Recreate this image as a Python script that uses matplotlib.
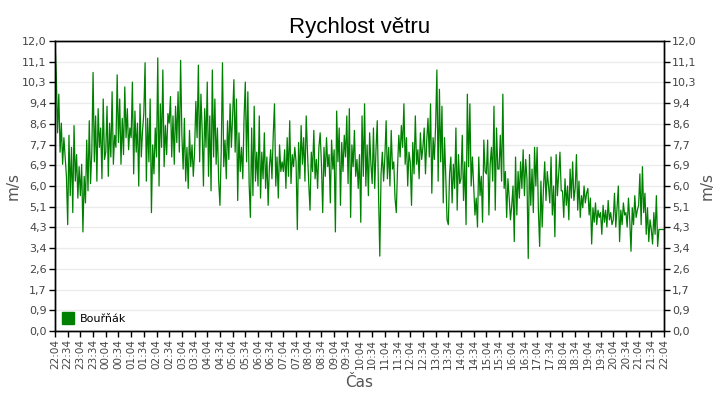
import numpy as np
import matplotlib.pyplot as plt
from matplotlib.lines import Line2D

plt.rcParams["font.family"] = ["DejaVu Sans"]

# wind speed (m/s), one row per 30 minute block starting 22:04, sample every 3 min
speed_blocks = [
    [12.0, 10.6, 8.2, 9.8, 7.4, 8.6, 6.9, 8.0, 7.2, 6.4],
    [4.4, 8.1, 5.6, 7.6, 4.9, 8.5, 6.2, 7.3, 5.5, 6.8],
    [5.6, 6.9, 4.1, 6.4, 5.3, 7.9, 5.8, 8.7, 6.1, 7.4],
    [10.7, 7.0, 8.9, 6.2, 9.2, 7.6, 8.4, 6.3, 9.6, 7.1],
    [7.4, 9.3, 6.4, 8.6, 7.2, 9.9, 6.9, 8.1, 7.6, 10.6],
    [7.8, 9.6, 6.9, 8.8, 7.3, 10.1, 8.0, 9.2, 7.5, 8.4],
    [8.0, 10.3, 6.5, 9.1, 7.4, 8.6, 6.0, 9.4, 7.2, 8.3],
    [9.0, 11.1, 6.2, 8.8, 7.0, 9.6, 4.9, 7.7, 6.5, 8.4],
    [7.2, 11.3, 6.0, 9.4, 7.6, 10.8, 6.8, 8.5, 7.3, 9.0],
    [8.6, 9.7, 7.2, 8.9, 6.9, 9.3, 7.8, 9.9, 7.4, 11.2],
    [8.1, 6.7, 8.8, 6.2, 7.6, 5.9, 8.3, 6.8, 7.7, 6.4],
    [7.4, 9.5, 8.0, 11.0, 7.0, 9.8, 8.3, 6.0, 9.2, 7.6],
    [10.3, 6.4, 8.9, 5.8, 10.8, 7.2, 9.6, 6.9, 8.4, 6.2],
    [5.2, 7.4, 11.1, 6.8, 7.9, 6.3, 8.7, 7.1, 9.4, 7.6],
    [8.9, 10.4, 7.4, 9.6, 5.4, 8.2, 6.6, 7.6, 6.3, 8.8],
    [10.3, 7.0, 9.9, 6.1, 4.7, 8.4, 5.6, 9.3, 6.2, 7.4],
    [6.0, 8.9, 5.5, 7.4, 6.3, 8.2, 5.9, 7.2, 5.2, 6.8],
    [7.5, 6.3, 8.1, 9.4, 6.0, 7.2, 5.5, 7.7, 6.6, 7.0],
    [6.6, 7.5, 5.9, 8.0, 6.4, 8.7, 6.1, 7.3, 6.8, 7.6],
    [7.0, 4.2, 7.8, 6.3, 8.5, 6.9, 8.0, 6.2, 8.9, 7.4],
    [6.1, 5.0, 7.4, 6.6, 8.3, 6.3, 7.1, 5.9, 7.6, 8.2],
    [6.9, 4.9, 7.6, 6.4, 8.0, 6.8, 7.3, 5.3, 7.9, 6.7],
    [7.5, 4.1, 9.1, 7.0, 8.4, 5.2, 7.8, 6.6, 8.1, 7.2],
    [8.9, 6.1, 9.2, 4.7, 7.7, 6.8, 8.3, 6.4, 7.1, 5.9],
    [7.3, 4.5, 8.9, 6.4, 9.4, 6.0, 7.7, 5.6, 8.2, 6.9],
    [6.1, 8.4, 5.9, 7.5, 8.7, 5.7, 3.1, 6.5, 7.4, 6.2],
    [7.2, 8.7, 6.3, 7.6, 6.0, 8.3, 6.7, 7.0, 5.5, 4.9],
    [6.8, 8.1, 7.2, 8.5, 7.6, 9.4, 6.9, 8.0, 6.0, 7.4],
    [7.0, 5.2, 7.8, 6.5, 8.9, 6.9, 7.5, 6.3, 8.2, 7.1],
    [7.6, 8.4, 6.5, 7.9, 8.8, 7.2, 9.4, 5.7, 8.0, 7.1],
    [8.5, 10.8, 6.2, 10.0, 7.0, 9.3, 5.3, 8.0, 6.4, 4.6],
    [4.4, 6.5, 7.2, 5.3, 6.9, 5.9, 8.4, 5.0, 7.3, 6.1],
    [6.3, 8.1, 5.4, 7.0, 4.4, 9.8, 6.8, 9.4, 6.0, 7.2],
    [6.0, 4.8, 5.5, 4.3, 7.2, 5.6, 6.4, 4.5, 7.9, 6.6],
    [6.5, 7.9, 4.8, 6.9, 7.6, 6.2, 9.3, 5.0, 8.4, 6.7],
    [6.7, 8.1, 6.2, 9.8, 5.9, 6.6, 4.7, 6.3, 5.5, 4.6],
    [5.2, 6.0, 3.7, 7.2, 4.8, 6.6, 5.5, 7.0, 5.9, 7.5],
    [5.6, 7.1, 6.3, 3.0, 7.3, 5.2, 6.7, 4.9, 7.6, 6.0],
    [7.6, 5.0, 3.5, 6.2, 4.3, 5.9, 7.0, 5.4, 6.6, 6.0],
    [5.3, 7.2, 4.8, 6.0, 3.9, 7.3, 5.6, 6.5, 7.4, 5.8],
    [5.8, 4.7, 6.3, 5.2, 6.0, 4.6, 6.7, 5.5, 7.0, 5.4],
    [5.9, 7.3, 5.0, 6.2, 4.7, 5.6, 5.1, 6.0, 5.3, 5.7],
    [5.9, 4.8, 5.5, 3.6, 5.1, 4.5, 5.3, 4.4, 5.0, 4.7],
    [4.9, 4.0, 5.2, 4.5, 5.0, 4.3, 5.4, 4.6, 4.9, 4.4],
    [4.6, 5.7, 4.3, 5.1, 6.0, 3.7, 5.0, 4.4, 5.3, 4.8],
    [4.9, 4.3, 5.5, 4.6, 3.3, 5.1, 4.4, 5.6, 4.7, 5.0],
    [5.2, 6.5, 4.4, 6.8, 4.9, 5.7, 4.0, 5.1, 3.7, 4.6],
    [4.2, 3.6, 4.9, 4.0, 5.6, 3.5, 4.2],
]
last_minute = 1440
last_value = 4.2
step_min = 3

time_labels = [
    "22:04", "22:34", "23:04", "23:34", "00:04", "00:34", "01:04", "01:34",
    "02:04", "02:34", "03:04", "03:34", "04:04", "04:34", "05:04", "05:34",
    "06:04", "06:34", "07:04", "07:34", "08:04", "08:34", "09:04", "09:34",
    "10:04", "10:34", "11:04", "11:34", "12:04", "12:34", "13:04", "13:34",
    "14:04", "14:34", "15:04", "15:34", "16:04", "16:34", "17:04", "17:34",
    "18:04", "18:34", "19:04", "19:34", "20:04", "20:34", "21:04", "21:34",
    "22:04",
]
y_labels = ["0,0", "0,9", "1,7", "2,6", "3,4", "4,3", "5,1", "6,0",
            "6,9", "7,7", "8,6", "9,4", "10,3", "11,1", "12,0"]

speed = [v for block in speed_blocks for v in block] + [last_value]
minutes = [i * step_min for i in range(len(speed) - 1)] + [last_minute]

green = "#008000"
label_col = "#444444"

fig = plt.figure(figsize=(7.2, 4.0), dpi=100)
ax = fig.add_axes([0.0764, 0.1725, 0.8458, 0.725])

ax.plot(minutes, speed, color=green, linewidth=0.9)

y_ticks = np.linspace(0, 12, len(y_labels))
ax.set_ylim(0, 12)
ax.set_xlim(0, 1440)
ax.set_yticks(y_ticks)
ax.set_yticklabels(y_labels)
ax.set_xticks(np.arange(0, 1441, 30))
ax.set_xticklabels(time_labels, rotation=90)
ax.grid(axis="y", color="#ebebeb", linewidth=1)
ax.set_axisbelow(True)
ax.tick_params(axis="both", direction="out", length=4, width=1,
               labelsize=7.5, labelcolor=label_col)
ax.tick_params(axis="y", labelsize=8, pad=2)
ax.tick_params(axis="x", pad=2)

ax2 = ax.twinx()
ax2.set_ylim(0, 12)
ax2.set_yticks(y_ticks)
ax2.set_yticklabels(y_labels)
ax2.tick_params(axis="y", direction="out", length=4, width=1,
                labelsize=8, labelcolor=label_col, pad=2)

for a in (ax, ax2):
    for s in a.spines.values():
        s.set_color("black")
        s.set_linewidth(1)

ax.set_ylabel("m/s", fontsize=11, color="#555555", labelpad=1)
ax2.set_ylabel("m/s", fontsize=11, color="#555555", labelpad=2)
ax.set_xlabel("Čas", fontsize=11, color="#555555", labelpad=4)
ax.set_title("Rychlost větru", fontsize=16, family="Liberation Sans", pad=6)

handle = Line2D([], [], linestyle="none", marker="s", markersize=9,
                color=green)
ax.legend([handle], ["Bouřňák"], loc="lower left", frameon=False,
          fontsize=8, handletextpad=0.4, borderaxespad=0.2,
          handlelength=1.2)

fig.savefig("out.png", dpi=100)
